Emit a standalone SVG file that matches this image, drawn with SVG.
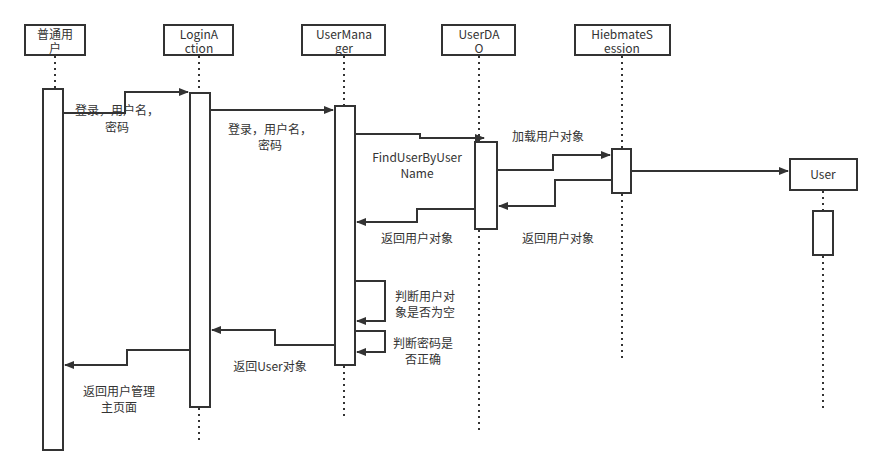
<svg xmlns="http://www.w3.org/2000/svg" width="881" height="475" viewBox="0 0 881 475">
<style>
.box{fill:#fff;stroke:#333;stroke-width:2}
.ll{stroke:#333;stroke-width:2;stroke-dasharray:2,4;fill:none}
.m{stroke:#333;stroke-width:2;fill:none;marker-end:url(#a)}
text{font-family:"Noto Sans CJK SC","Noto Sans",sans-serif;font-size:12px;fill:#333;text-anchor:middle}
</style>
<defs><marker id="a" markerWidth="10" markerHeight="8" refX="9" refY="4" orient="auto" markerUnits="userSpaceOnUse"><path d="M0,0L10,4L0,8z" fill="#333"/></marker></defs>
<rect width="881" height="475" fill="#fff"/>
<g id="user0">
<line class="ll" x1="55" y1="56" x2="55" y2="89"/>
<rect class="box" x="25" y="25" width="60" height="30"/>
<text x="55" y="39">普通用</text><text x="55" y="53">户</text>
<rect class="box" x="43" y="89" width="20" height="361"/>
</g>
<g id="login">
<line class="ll" x1="199" y1="56" x2="199" y2="93"/>
<line class="ll" x1="199" y1="408" x2="199" y2="440"/>
<rect class="box" x="164" y="25" width="69" height="30"/>
<text x="199" y="39">LoginA</text><text x="199" y="53">ction</text>
<rect class="box" x="190" y="93" width="20" height="314"/>
</g>
<g id="mgr">
<line class="ll" x1="344" y1="56" x2="344" y2="106"/>
<line class="ll" x1="344" y1="366" x2="344" y2="420"/>
<rect class="box" x="302" y="25" width="83" height="30"/>
<text x="344" y="39">UserMana</text><text x="344" y="53">ger</text>
<rect class="box" x="335" y="106" width="20" height="259"/>
</g>
<g id="dao">
<line class="ll" x1="479" y1="56" x2="479" y2="142"/>
<line class="ll" x1="479" y1="230" x2="479" y2="430"/>
<rect class="box" x="442" y="25" width="73" height="30"/>
<text x="479" y="39">UserDA</text><text x="479" y="53">O</text>
<rect class="box" x="475" y="142" width="22" height="87"/>
</g>
<g id="session">
<line class="ll" x1="622" y1="56" x2="622" y2="149"/>
<line class="ll" x1="622" y1="194" x2="622" y2="358"/>
<rect class="box" x="575" y="25" width="95" height="30"/>
<text x="622" y="39">HiebmateS</text><text x="622" y="53">ession</text>
<rect class="box" x="612" y="149" width="19" height="44"/>
</g>
<g id="userobj">
<line class="ll" x1="823" y1="191" x2="823" y2="211"/>
<line class="ll" x1="823" y1="256" x2="823" y2="410"/>
<rect class="box" x="790" y="159" width="67" height="31"/>
<text x="823" y="179">User</text>
<rect class="box" x="813" y="211" width="20" height="44"/>
</g>
<g id="connectors">
<path class="m" d="M63,113H125V92H188"/>
<text x="117" y="115">登录，用户名，</text><text x="117" y="132">密码</text>
<path class="m" d="M210,110H333"/>
<text x="270" y="134">登录，用户名，</text><text x="270" y="150">密码</text>
<path class="m" d="M355,134H420V138H484"/>
<text x="417" y="162">FindUserByUser</text><text x="417" y="178">Name</text>
<path class="m" d="M497,170H553V155H610"/>
<text x="548" y="141">加载用户对象</text>
<path class="m" d="M631,171H788"/>
<path class="m" d="M612,180H555V206H499"/>
<text x="558" y="243">返回用户对象</text>
<path class="m" d="M475,209H417V222H357"/>
<text x="417" y="243">返回用户对象</text>
<path class="m" d="M355,281H385V321H357"/>
<text x="425" y="301">判断用户对</text><text x="425" y="317">象是否为空</text>
<path class="m" d="M355,331H385V352H357"/>
<text x="423" y="348">判断密码是</text><text x="423" y="364">否正确</text>
<path class="m" d="M335,345H275V330H212"/>
<text x="270" y="371">返回User对象</text>
<path class="m" d="M190,350H127V365H65"/>
<text x="119" y="396">返回用户管理</text><text x="119" y="412">主页面</text>
</g>
</svg>
